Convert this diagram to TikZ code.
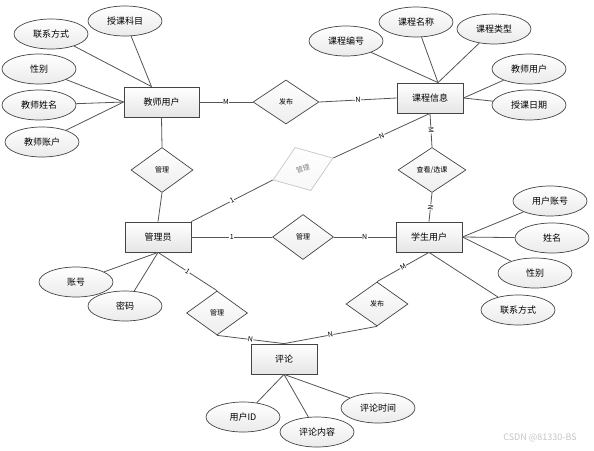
\documentclass[tikz,border=0pt]{standalone}
\usepackage{fontspec}
\newfontfamily\cjk{Noto Sans CJK SC}
\usetikzlibrary{shapes.geometric,calc}
\definecolor{lc}{HTML}{555555}
\definecolor{bc}{HTML}{444444}
\tikzset{
  ent/.style={rectangle, draw=bc, line width=0.8pt, top color=white, bottom color=gray!20, minimum width=66pt, minimum height=30pt, inner sep=0pt, font=\cjk\fontsize{9}{10}\selectfont},
  attr/.style={ellipse, draw=bc, line width=0.7pt, top color=white, bottom color=gray!16, minimum width=74pt, minimum height=30pt, inner sep=0pt, font=\cjk\fontsize{9}{10}\selectfont},
  rel/.style={diamond, draw=bc, line width=0.7pt, top color=white, bottom color=gray!14, minimum width=62pt, minimum height=44pt, inner sep=0pt, font=\cjk\fontsize{7}{8}\selectfont},
  ln/.style={draw=lc, line width=0.8pt},
  lab/.style={font=\cjk\fontsize{7}{8}\selectfont, fill=white, inner sep=0.4pt, sloped}
}
\begin{document}
\begin{tikzpicture}[x=1pt,y=-1pt]
\fill[white] (0,0) rectangle (594,450);
\useasboundingbox (0,0) rectangle (594,450);

% entities
\node[ent, minimum width=75pt] (T) at (161.5,102) {教师用户};
\node[ent] (C) at (430,98) {课程信息};
\node[ent] (A) at (158,237) {管理员};
\node[ent] (S) at (429,237) {学生用户};
\node[ent] (P) at (284,359) {评论};

% relations
\node[rel, minimum width=66pt] (d1) at (286,102) {发布};
\node[rel, minimum height=45pt] (d2) at (162,170) {管理};
\node[rel, minimum width=64pt, minimum height=46pt, rotate=20, draw=gray!45, text=gray, top color=white, bottom color=gray!6] (d3) at (303,169) {管理};
\node[rel, minimum width=61pt, minimum height=45pt] (d4) at (303,237) {管理};
\node[rel, minimum width=68pt, minimum height=45pt] (d5) at (432,170) {查看/选课};
\node[rel, minimum width=61pt] (d6) at (217,313) {管理};
\node[rel] (d7) at (377,304) {发布};

% attributes of 教师用户
\node[attr] (t1) at (125,21) {授课科目};
\node[attr] (t2) at (51,34) {联系方式};
\node[attr] (t3) at (39,69) {性别};
\node[attr] (t4) at (39,105) {教师姓名};
\node[attr] (t5) at (42,142) {教师账户};
% attributes of 课程信息
\node[attr] (c1) at (346,41) {课程编号};
\node[attr] (c2) at (416,22) {课程名称};
\node[attr] (c3) at (494,29) {课程类型};
\node[attr] (c4) at (529,69) {教师用户};
\node[attr] (c5) at (529,105) {授课日期};
% attributes of 学生用户
\node[attr] (s1) at (550,201) {用户账号};
\node[attr] (s2) at (552,238) {姓名};
\node[attr] (s3) at (535,273) {性别};
\node[attr] (s4) at (518,310) {联系方式};
% attributes of 管理员
\node[attr] (a1) at (76,282) {账号};
\node[attr] (a2) at (125,306) {密码};
% attributes of 评论
\node[attr] (p1) at (243,417) {用户ID};
\node[attr] (p2) at (317,432) {评论内容};
\node[attr] (p3) at (378,408) {评论时间};

\coordinate (Ttop) at ($(T.north)+(-10,0)$);
\coordinate (Ctop) at ($(C.north)+(8,0)$);

% attribute lines
\draw[ln] (t1) -- (Ttop);
\draw[ln] (t2) -- (Ttop);
\draw[ln] (t3) -- (T.west);
\draw[ln] (t4) -- (T.west);
\draw[ln] (t5) -- (T.west);
\draw[ln] (c1) -- (Ctop);
\draw[ln] (c2) -- (Ctop);
\draw[ln] (c3) -- (Ctop);
\draw[ln] (c4) -- (C.east);
\draw[ln] (c5) -- (C.east);
\draw[ln] (s1) -- (S.east);
\draw[ln] (s2) -- (S.east);
\draw[ln] (s3) -- (S.east);
\draw[ln] (s4) -- (S.south);
\draw[ln] (a1) -- (A.south);
\draw[ln] (a2) -- (A.south);
\draw[ln] (p1) -- (P.south);
\draw[ln] (p2) -- (P.south);
\draw[ln] (p3) -- (P.south);

% relationship lines
\draw[ln] (T.east) -- node[lab]{M} (d1.west);
\draw[ln] (d1.east) -- node[lab]{N} (C.west);
\draw[ln] (T.south) -- (d2.north);
\draw[ln] (d2.south) -- (A.north);
\draw[ln] (A.north east) -- node[lab]{1} (d3.west);
\draw[ln] (d3.east) -- node[lab]{N} (C.south);
\draw[ln] (A.east) -- node[lab]{1} (d4.west);
\draw[ln] (d4.east) -- node[lab]{N} (S.west);
\draw[ln] (C.south) -- node[lab]{M} (d5.north);
\draw[ln] (d5.south) -- node[lab]{N} (S.north);
\draw[ln] (S.south) -- node[lab]{M} (d7.north);
\draw[ln] (A.south) -- node[lab]{1} (d6.north);
\draw[ln] (d6.south) -- node[lab]{N} (P.north);
\draw[ln] (d7.south) -- node[lab]{N} (P.north);

\node[font=\cjk\fontsize{9}{10}\selectfont, text=gray!45] (wm) at (540,438) {CSDN @81330-BS};
\end{tikzpicture}
\end{document}
